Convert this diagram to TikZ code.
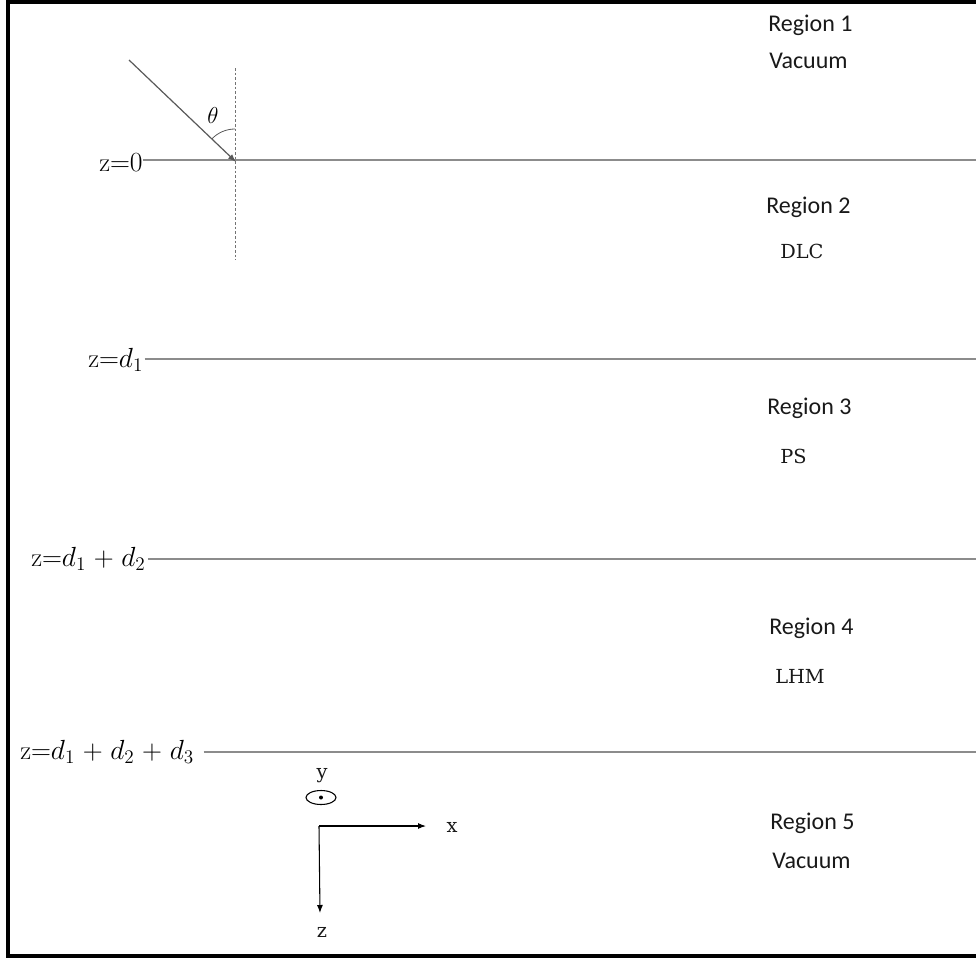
\documentclass[tikz,border=0pt]{standalone}
\usepackage{fontspec}
\newfontfamily\calib{Carlito}
\newfontfamily\cambr{DejaVu Serif}
\usetikzlibrary{arrows.meta,shapes.geometric}
\newcommand{\zeq}[1]{$\medmuskip=5mu\mathrm{z}{=}#1$}
\begin{document}
\begin{tikzpicture}[x=0.75pt,y=-0.75pt,
  reg/.style={font=\calib\fontsize{18}{22}\selectfont, inner sep=0pt, anchor=base west, text=black!90},
  mat/.style={font=\fontsize{20}{24}\selectfont, inner sep=0pt, anchor=base west},
  lab/.style={font=\cambr\fontsize{14.5}{18}\selectfont, inner sep=0pt, anchor=base west, text=black!90},
  iface/.style={draw=black!45, line width=0.9pt},
  axis/.style={line width=0.8pt, -{Latex[length=6pt,width=4.5pt]}}]
\useasboundingbox (0,0) rectangle (976,958);
% frame
\draw[line width=2.6pt] (976,2) -- (8,2) -- (8,956) -- (976,956);
% right ends of interfaces
\coordinate (e0) at (976,160);
\coordinate (e1) at (976,359);
\coordinate (e2) at (976,559);
\coordinate (e3) at (976,752);
% interface labels
\node[mat] (z0) at (99,171) {\zeq{0}};
\node[mat] (z1) at (88,367) {\zeq{d_1}};
\node[mat] (z2) at (31,566) {\zeq{d_1+d_2}};
\node[mat] (z3) at (20,759) {\zeq{d_1+d_2+d_3}};
\draw[iface] (z0.east |- e0) -- (e0);
\draw[iface] ([xshift=1pt]z1.east |- e1) -- (e1);
\draw[iface] ([xshift=1.5pt]z2.east |- e2) -- (e2);
\draw[iface] ([xshift=7pt]z3.east |- e3) -- (e3);
% region labels
\node[reg] (r1) at (768,31) {Region 1};
\node[reg] (v1) at (769,68) {Vacuum};
\node[reg] (r2) at (766,213) {Region 2};
\node[lab] (m2) at (780,258) {DLC};
\node[reg] (r3) at (767,414) {Region 3};
\node[lab] (m3) at (780,463) {PS};
\node[reg] (r4) at (769,634) {Region 4};
\node[lab] (m4) at (775,683) {LHM};
\node[reg] (r5) at (770,829) {Region 5};
\node[reg] (v5) at (772,868) {Vacuum};
% incidence
\coordinate (tip) at (235,161);
\coordinate (src) at (129,60);
\coordinate (ntop) at (235,68);
\coordinate (nbot) at (235,260);
\draw[black!55, line width=0.7pt, dash pattern=on 2pt off 1.5pt] (ntop) -- (nbot);
\draw[black!65, line width=0.9pt, -{Latex[length=6pt,width=4.5pt]}, shorten >=-1pt] (src) -- (tip);
\draw[black!65, line width=0.6pt] (tip) ++(224:32) arc[start angle=224, end angle=270, radius=32];
\node[font=\fontsize{19}{22}\selectfont, inner sep=0pt] (th) at (213,115) {$\theta$};
% axes
\node[lab, anchor=center] (ylab) at (322,776) {y};
\node[draw, ellipse, line width=0.8pt, minimum width=22.5pt, minimum height=10.5pt, inner sep=0pt] (ycirc) at (321,797.5) {};
\fill (ycirc.center) circle[radius=2];
\coordinate (o) at (319,826);
\coordinate (xe) at (426,826);
\coordinate (ze) at (320,913);
\draw[axis] (o) -- (xe);
\draw[axis] (o) -- (ze);
\node[lab, anchor=center] (xlab) at (452,827) {x};
\node[lab, anchor=center] (zlab) at (322,932) {z};
\end{tikzpicture}
\end{document}
